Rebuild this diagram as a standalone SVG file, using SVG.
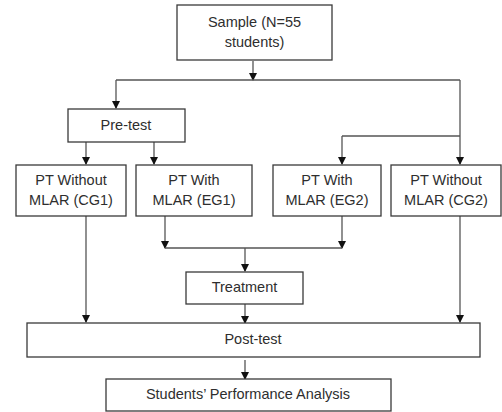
<svg xmlns="http://www.w3.org/2000/svg" width="502" height="412" viewBox="0 0 502 412">
<defs>
<marker id="ah" markerWidth="8" markerHeight="8" refX="7" refY="4" orient="auto" markerUnits="userSpaceOnUse">
<path d="M0,0 L8,4 L0,8 Z" fill="#111"/>
</marker>
<style>
.box{fill:#fff;stroke:#3a3a3a;stroke-width:1.3}
.t{font-family:"Liberation Sans",Arial,sans-serif;font-size:14.5px;fill:#2e2e2e;text-anchor:middle}
.c{fill:none;stroke:#555;stroke-width:1.3}
.a{marker-end:url(#ah)}
</style>
</defs>
<rect width="502" height="412" fill="#fff"/>
<g id="connectors">
<path class="c a" d="M253,61 V80"/>
<path class="c" d="M116,80 H460"/>
<path class="c a" d="M116,80 V108"/>
<path class="c a" d="M460,80 V164"/>
<path class="c" d="M342,136 H460"/>
<path class="c a" d="M342,136 V164"/>
<path class="c a" d="M86,142 V164"/>
<path class="c a" d="M154,142 V164"/>
<path class="c a" d="M86,216 V322"/>
<path class="c a" d="M460,216 V322"/>
<path class="c a" d="M165,216 V248"/>
<path class="c a" d="M342,216 V248"/>
<path class="c" d="M165,248 H342"/>
<path class="c a" d="M245,248 V271"/>
<path class="c a" d="M245,304 V323"/>
<path class="c a" d="M245,360 V379"/>
</g>
<g id="sample">
<rect class="box" x="177" y="5" width="155" height="55"/>
<text class="t" x="254.5" y="27">Sample (N=55</text>
<text class="t" x="254.5" y="47">students)</text>
</g>
<g id="pretest">
<rect class="box" x="68" y="109" width="117" height="33"/>
<text class="t" x="126" y="130">Pre-test</text>
</g>
<g id="cg1">
<rect class="box" x="16" y="165" width="110" height="51"/>
<text class="t" x="71" y="185">PT Without</text>
<text class="t" x="71" y="205">MLAR (CG1)</text>
</g>
<g id="eg1">
<rect class="box" x="136" y="165" width="116" height="51"/>
<text class="t" x="194" y="185">PT With</text>
<text class="t" x="194" y="205">MLAR (EG1)</text>
</g>
<g id="eg2">
<rect class="box" x="273" y="165" width="108" height="51"/>
<text class="t" x="327" y="185">PT With</text>
<text class="t" x="327" y="205">MLAR (EG2)</text>
</g>
<g id="cg2">
<rect class="box" x="391" y="165" width="110" height="51"/>
<text class="t" x="446" y="185">PT Without</text>
<text class="t" x="446" y="205">MLAR (CG2)</text>
</g>
<g id="treatment">
<rect class="box" x="186" y="272" width="117" height="32"/>
<text class="t" x="244.5" y="292">Treatment</text>
</g>
<g id="posttest">
<rect class="box" x="27" y="323" width="453" height="34"/>
<text class="t" x="253" y="344">Post-test</text>
</g>
<g id="analysis">
<rect class="box" x="106" y="379" width="285" height="32"/>
<text class="t" x="248" y="399">Students’ Performance Analysis</text>
</g>
</svg>
